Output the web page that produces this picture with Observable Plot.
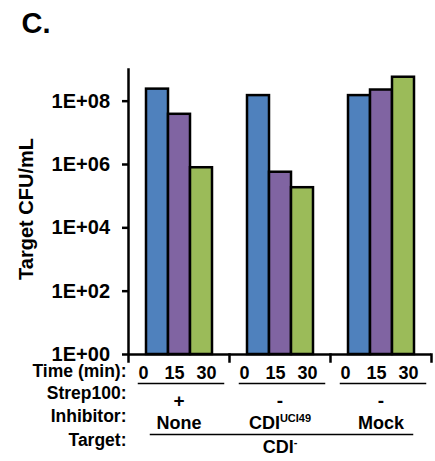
<!DOCTYPE html>
<html><head><meta charset="utf-8">
<script src="https://cdn.jsdelivr.net/npm/d3@7"></script>
<script src="https://cdn.jsdelivr.net/npm/@observablehq/plot@0.6"></script>
<style>body{margin:0;background:#fff;} #chart{width:435px;height:461px;}</style>
</head><body><div id="chart"></div>
<script>
// ---- data ----
const groups = ["None", "CDI^UCI49", "Mock"];
const times = ["0", "15", "30"];
const strep = ["+", "-", "-"];
const noneValues = [2.4e8, 3.85e7, 7.9e5];
const cdiValues = [1.5e8, 5.7e5, 1.85e5];
const mockValues = [1.5e8, 2.25e8, 5.7e8];
const yTicks = [1, 1e2, 1e4, 1e6, 1e8];
const tickLabels = ["1E+00", "1E+02", "1E+04", "1E+06", "1E+08"];
const rowLabels = ["Time (min):", "Strep100:", "Inhibitor:", "Target:"];
const targetLabel = "CDI^-";
const yLabel = "Target CFU/mL";
const title = "C.";
const colors = ["#4F81BD", "#8064A2", "#9BBB59"];

// ---- layout (styling only) ----
const W = 435, H = 461, mL = 127, mR = 3, mT = 69, mB = 107;
const frameH = H - mT - mB;
const rowDy = [17, 39, 62, 86];
const timeDx = [-14, -5, 5];

const series = [noneValues, cdiValues, mockValues];
const data = groups.flatMap((g, i) => times.map((t, j) => ({group: g, time: t, value: series[i][j]})));
const groupInfo = groups.map((g, i) => ({group: g, strep: strep[i]}));
const tickData = yTicks.map((v, i) => ({v, label: tickLabels[i]}));

const marks = [
  Plot.barY(data, {fx: "group", x: "time", y1: 1, y2: "value", fill: "time", stroke: "black", strokeWidth: 2.5, inset: 0}),
  Plot.ruleY([1], {stroke: "black", strokeWidth: 2.5}),
  Plot.frame({anchor: "left", facetAnchor: "left", insetBottom: -7, stroke: "black", strokeWidth: 2.5}),
  Plot.frame({anchor: "right", insetTop: frameH, insetBottom: -7, stroke: "black", strokeWidth: 2.5}),
  Plot.axisY(yTicks, {tickFormat: () => "", tickSize: 6, strokeWidth: 2.5, label: null}),
  Plot.text(tickData, {y: "v", text: "label", facetAnchor: "left", frameAnchor: "left", textAnchor: "end", dx: -18.5, fontSize: 20, fontWeight: "bold", ariaLabel: "ytick"}),
  // x labels (time)
  ...times.map((t, j) => Plot.text(data.filter(d => d.time === t), {fx: "group", x: "time", text: "time", frameAnchor: "bottom", lineAnchor: "middle", dy: 19, dx: timeDx[j], fontSize: 18, fontWeight: "bold"})),
  Plot.frame({anchor: "bottom", insetBottom: -29, insetLeft: 10, insetRight: 6, stroke: "black", strokeWidth: 1.5}),
  Plot.text(groupInfo, {fx: "group", text: "strep", frameAnchor: "bottom", lineAnchor: "middle", dy: 46, fontSize: 19, fontWeight: "bold"}),
  Plot.text(groupInfo, {fx: "group", text: "group", frameAnchor: "bottom", lineAnchor: "middle", dy: 69, fontSize: 18, fontWeight: "bold"}),
  Plot.frame({facet: "super", anchor: "bottom", insetBottom: -80, insetLeft: 22, insetRight: 19, stroke: "black", strokeWidth: 1.5}),
  Plot.text([targetLabel], {facet: "super", frameAnchor: "bottom", lineAnchor: "middle", dy: 93, fontSize: 18, fontWeight: "bold"}),
  ...rowLabels.map((r, i) => Plot.text([r], {facet: "super", frameAnchor: "bottom-left", textAnchor: "end", lineAnchor: "middle", dx: -2, dy: rowDy[i], fontSize: 17.5, fontWeight: "bold", ariaLabel: "rowlabel"})),
  Plot.text([yLabel], {facet: "super", frameAnchor: "left", textAnchor: "middle", lineAnchor: "middle", rotate: -90, dx: -102, dy: -3, fontSize: 20, fontWeight: "bold", ariaLabel: "ylabel"}),
  Plot.text([title], {facet: "super", frameAnchor: "top-left", textAnchor: "start", lineAnchor: "middle", dx: -107, dy: -46, fontSize: 29, fontWeight: "bold"})
];

const plot = Plot.plot({
  width: W, height: H,
  marginLeft: mL, marginRight: mR, marginTop: mT, marginBottom: mB,
  style: {fontFamily: '"Liberation Sans", Arial, sans-serif', fontWeight: "bold", color: "black", background: "white", overflow: "visible"},
  fx: {domain: groups, padding: 0, axis: null, label: null},
  x: {domain: times, paddingInner: 0, paddingOuter: 0.78, axis: null},
  y: {type: "log", domain: [1, 1e9], axis: null},
  color: {domain: times, range: colors},
  marks
});
document.getElementById("chart").appendChild(plot);

// letter spacing
plot.querySelectorAll('[aria-label="ytick"] text').forEach(t => t.setAttribute("letter-spacing", "1.4"));
plot.querySelectorAll('[aria-label="rowlabel"] text').forEach(t => t.setAttribute("letter-spacing", "1.2"));
plot.querySelectorAll('[aria-label="ylabel"] text').forEach(t => t.setAttribute("letter-spacing", "1.5"));
// superscripts
plot.querySelectorAll("text").forEach(t => {
  const s = t.textContent;
  if (s.includes("^")) {
    const [base, sup] = s.split("^");
    t.textContent = base;
    const ts = document.createElementNS("http://www.w3.org/2000/svg", "tspan");
    ts.setAttribute("font-size", "11");
    ts.setAttribute("dy", "-7");
    ts.textContent = sup;
    t.appendChild(ts);
  }
});
</script>
</body></html>
